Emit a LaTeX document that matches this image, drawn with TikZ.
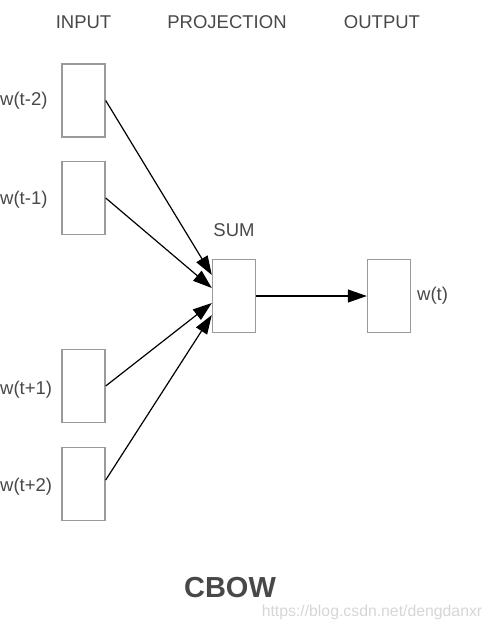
\documentclass[tikz,border=0pt]{standalone}
\usepackage{fontspec}
\setmainfont{Liberation Sans}
\usetikzlibrary{arrows.meta}
\definecolor{boxgray}{HTML}{9A9A9A}
\definecolor{txtgray}{HTML}{484848}
\definecolor{wmgray}{HTML}{D6D6D6}
\begin{document}
\begin{tikzpicture}[x=1pt,y=-1pt,
  wbox/.style={draw=boxgray,line width=1.4pt,minimum width=43pt,minimum height=73pt,inner sep=0pt},
  lbl/.style={text=txtgray,font=\fontsize{18.5}{21}\selectfont,inner sep=0pt},
  conn/.style={line width=1.2pt,-{Triangle[length=19pt,width=13pt]}}]
\useasboundingbox (0,0) rectangle (492,629);
% headers
\node[lbl] (hin) at (83.5,22) {INPUT};
\node[lbl] (hproj) at (227,22) {PROJECTION};
\node[lbl] (hout) at (382,22) {OUTPUT};
% input boxes
\node[wbox] (b1) at (83.5,100.5) {};
\node[wbox] (b2) at (83.5,198) {};
\node[wbox] (b3) at (83.5,386) {};
\node[wbox] (b4) at (83.5,484) {};
\node[lbl,anchor=west] (l1) at (0,101) {w(t-2)};
\node[lbl,anchor=west] (l2) at (0,200) {w(t-1)};
\node[lbl,anchor=west] (l3) at (0,390) {w(t+1)};
\node[lbl,anchor=west] (l4) at (0,487) {w(t+2)};
% sum and output
\node[wbox] (sum) at (234,296) {};
\node[lbl] (lsum) at (234,230) {SUM};
\node[wbox] (out) at (389,296) {};
\node[lbl,anchor=west] (lout) at (417,296) {w(t)};
% connectors
\draw[conn] (b1.east) -- ([yshift=21pt]sum.west);
\draw[conn] (b2.east) -- ([yshift=8pt]sum.west);
\draw[conn] (b3.east) -- ([yshift=-7pt]sum.west);
\draw[conn] ([yshift=4pt]b4.east) -- ([yshift=-19pt]sum.west);
\draw[conn] (sum.east) -- (out.west);
% title
\node[text=txtgray,font=\fontsize{29}{32}\selectfont\bfseries,inner sep=0pt] (title) at (230,587.5) {CBOW};
\node[text=wmgray,font=\fontsize{15.8}{18}\selectfont,inner sep=0pt] (wm) at (372,612) {https://blog.csdn.net/dengdanxr};
\end{tikzpicture}
\end{document}
